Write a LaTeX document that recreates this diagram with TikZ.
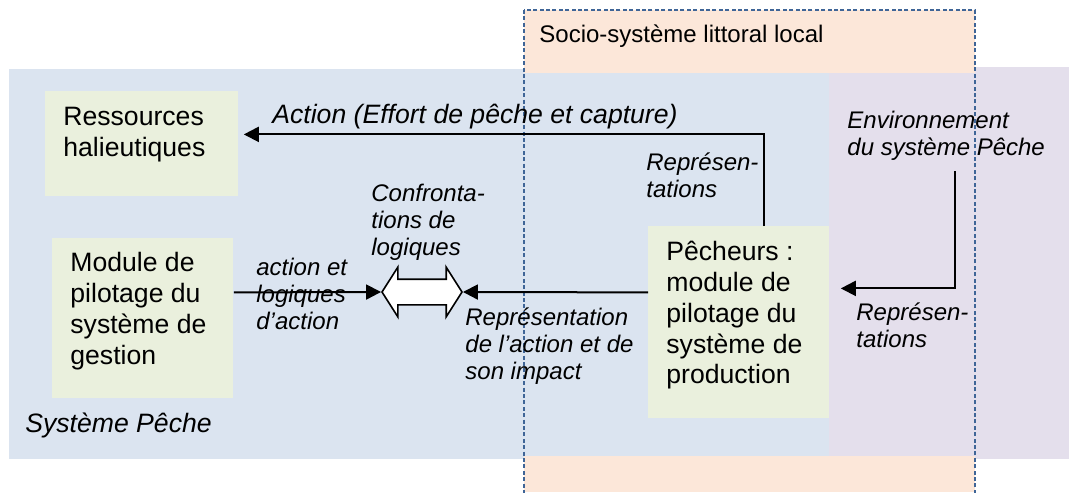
\documentclass[tikz,border=0pt]{standalone}
\usepackage{fontspec}
\setmainfont{Liberation Sans}
\usetikzlibrary{arrows.meta,shapes.arrows}
\definecolor{sysCol}{HTML}{DBE4F0}
\definecolor{envCol}{HTML}{E4DFEC}
\definecolor{socCol}{HTML}{FCE7D9}
\definecolor{boxCol}{HTML}{EAF0DD}
\definecolor{frameCol}{HTML}{3F6597}
\tikzset{
  frame/.style={draw=frameCol, dash pattern=on 2pt off 1.2pt, line width=0.8pt},
  gbox/.style={fill=boxCol, inner sep=0pt, anchor=north west},
  btxt/.style={font=\fontsize{13.3}{15.4}\selectfont, align=left, inner sep=0pt, anchor=north west},
  zlbl/.style={font=\fontsize{12}{13.5}\selectfont, inner sep=0pt, anchor=base west},
  lbl/.style={font=\fontsize{12}{13.5}\selectfont\itshape, align=left, inner sep=0pt, anchor=north west},
  biglbl/.style={font=\fontsize{13.3}{15.4}\selectfont\itshape, inner sep=0pt, anchor=base west},
  arr/.style={-{Triangle[length=7.5pt,width=7.5pt]}, line width=1pt},
  dblarr/.style={double arrow, draw, fill=white, line width=0.8pt, inner xsep=0pt, inner ysep=6pt,
                 minimum height=40pt,
                 double arrow head extend=6pt, double arrow tip angle=115},
}

\begin{document}
\begin{tikzpicture}[x=0.5pt,y=-0.5pt]
  \useasboundingbox (0,0) rectangle (1069,492);
  % zones
  \fill[sysCol] (9,69) rectangle (829,459);
  \fill[envCol] (829,67) rectangle (1069,459);
  \fill[socCol] (524,10) rectangle (975,73);
  \fill[socCol] (524,456) rectangle (975,492);
  \draw[frame] (524,10) rectangle (975,500);
  \node[zlbl] (soc) at (539,43) {Socio-système littoral local};
  \node[biglbl] (sys) at (25,432) {Système Pêche};

  % modules
  \node[gbox, minimum width=96.5pt, minimum height=52.5pt] (res) at (45,91) {};
  \node[gbox, minimum width=90.5pt, minimum height=80pt] (mod) at (52,238) {};
  \node[gbox, minimum width=90.5pt, minimum height=96pt] (pech) at (648,226) {};
  \node[btxt] (resT) at (63,107) {Ressources\\halieutiques};
  \node[btxt] (modT) at (70,252) {Module de\\pilotage du\\système de\\gestion};
  \node[btxt] (pechT) at (666,241) {Pêcheurs :\\module de\\pilotage du\\système de\\production};

  \node[dblarr] (conf) at (422,292) {};

  % labels
  \node[biglbl] (actL) at (272,124) {Action (Effort de pêche et capture)};
  \node[lbl] (repL) at (646,152) {Représen-\\tations};
  \node[lbl] (envL) at (847,111) {Environnement\\du système Pêche};
  \node[lbl] (repR) at (856,302) {Représen-\\tations};
  \node[lbl] (confL) at (371,184) {Confronta-\\tions de\\logiques};
  \node[lbl] (logL) at (256,258) {action et\\logiques\\d’action};
  \node[lbl] (impL) at (465,307) {Représentation\\de l’action et de\\son impact};

  % connectors
  \coordinate (envSrc) at (955,171);
  \draw[arr] ([xshift=58pt]pech.north west) |- ([xshift=2.5pt,yshift=4.75pt]res.east);
  \draw[arr] (envSrc) |- ([xshift=5.5pt,yshift=17pt]pech.east);
  \draw[arr] ([yshift=13pt]mod.east) -- (conf.west);
  \draw[arr] ([yshift=15pt]pech.west) -- (conf.east);
\end{tikzpicture}
\end{document}
